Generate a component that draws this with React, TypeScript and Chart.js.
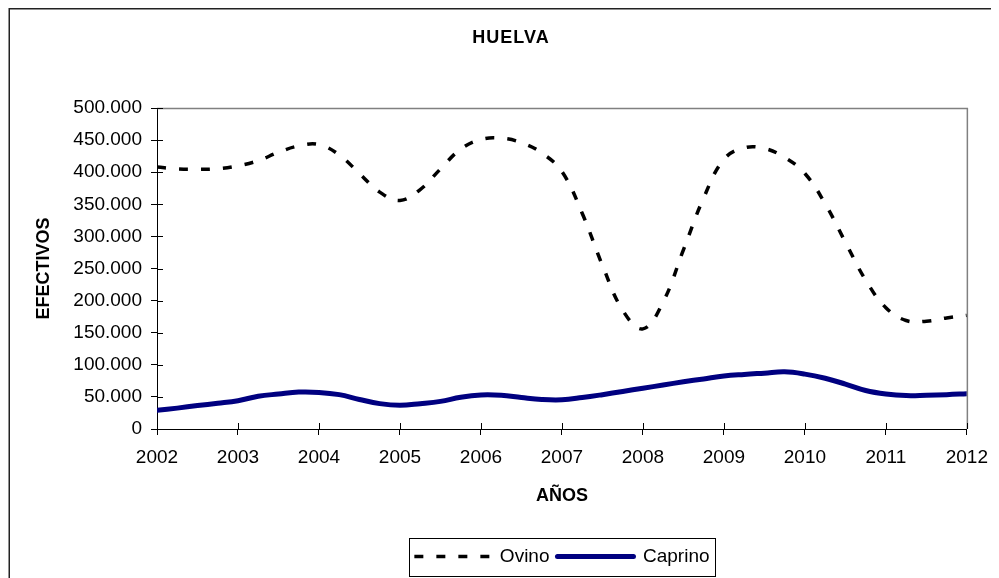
import { useEffect, useRef } from 'react';
import { Chart, registerables } from 'chart.js';

Chart.register(...registerables);

const chartTitle = 'HUELVA';
const yAxisTitle = 'EFECTIVOS';
const xAxisTitle = 'AÑOS';
const seriesNames = ['Ovino', 'Caprino'];

const yearTicks = [2002, 2003, 2004, 2005, 2006, 2007, 2008, 2009, 2010, 2011, 2012];

const periods = [
  2002, 2002.25, 2002.5, 2002.75,
  2003, 2003.25, 2003.5, 2003.75,
  2004, 2004.25, 2004.5, 2004.75,
  2005, 2005.25, 2005.5, 2005.75,
  2006, 2006.25, 2006.5, 2006.75,
  2007, 2007.25, 2007.5, 2007.75,
  2008, 2008.25, 2008.5, 2008.75,
  2009, 2009.25, 2009.5, 2009.75,
  2010, 2010.25, 2010.5, 2010.75,
  2011, 2011.25, 2011.5, 2011.75,
  2012,
];

const ovino = [
  408000, 405000, 404500, 405500,
  410000, 418000, 431000, 441000,
  443000, 427000, 398000, 369000,
  356000, 373000, 405000, 436000,
  451000, 453000, 446000, 430000,
  401000, 336000, 255000, 185000,
  156000, 198000, 279000, 360000,
  420000, 438000, 437000, 423000,
  398000, 351000, 291000, 232000,
  189000, 169000, 168000, 173000,
  177000,
];

const caprino = [
  29000, 32500, 36500, 40000,
  44000, 51000, 54500, 57500,
  57000, 53500, 46000, 39500,
  37000, 39500, 43000, 49500,
  53000, 52500, 49000, 46000,
  45500, 49000, 53500, 58500,
  63500, 68500, 73500, 78000,
  82500, 85000, 87000, 89000,
  85500, 79000, 70000, 60000,
  54500, 52000, 52500, 53500,
  55000,
];

const FONT = '"Liberation Sans", Arial, Helvetica, sans-serif';

const decorPlugin = {
  id: 'decor',
  afterDraw(chart: any) {
    const { ctx, chartArea: a, scales } = chart;
    ctx.save();
    // plot area border (top / right) in grey
    ctx.strokeStyle = '#808080';
    ctx.lineWidth = 1.5;
    ctx.beginPath();
    ctx.moveTo(a.left, a.top + 0.5);
    ctx.lineTo(a.right + 0.5, a.top + 0.5);
    ctx.lineTo(a.right + 0.5, a.bottom);
    ctx.stroke();

    // inner halves of the tick marks (ticks cross the axes)
    ctx.strokeStyle = '#000';
    ctx.lineWidth = 1;
    ctx.beginPath();
    scales.y.ticks.forEach((t: any) => {
      const y = Math.round(scales.y.getPixelForValue(t.value)) + 0.5;
      ctx.moveTo(a.left, y);
      ctx.lineTo(a.left + 6, y);
    });
    scales.x.ticks.forEach((t: any) => {
      const x = Math.round(scales.x.getPixelForValue(t.value)) + 0.5;
      ctx.moveTo(x, a.bottom);
      ctx.lineTo(x, a.bottom - 6);
    });
    ctx.stroke();

    // outer frame (top and left edges visible)
    ctx.strokeStyle = '#222';
    ctx.lineWidth = 1.5;
    ctx.beginPath();
    ctx.moveTo(1.25, chart.height);
    ctx.lineTo(1.25, 0.75);
    ctx.lineTo(chart.width, 0.75);
    ctx.stroke();

    // title
    ctx.fillStyle = '#000';
    ctx.font = `bold 18px ${FONT}`;
    ctx.textAlign = 'center';
    ctx.textBaseline = 'middle';
    try { (ctx as any).letterSpacing = '1px'; } catch (e) {}
    ctx.fillText(chartTitle, 503, 30);
    try { (ctx as any).letterSpacing = '0px'; } catch (e) {}

    // legend frame
    const hb = chart.legend && chart.legend.legendHitBoxes;
    if (hb && hb.length) {
      let l = Infinity, r = -Infinity, cy = 0;
      hb.forEach((h: any) => {
        l = Math.min(l, h.left);
        r = Math.max(r, h.left + h.width);
        cy = h.top + h.height / 2;
      });
      ctx.strokeStyle = '#000';
      ctx.lineWidth = 1;
      ctx.strokeRect(Math.round(l - 5) + 0.5, Math.round(cy - 19) + 0.5, Math.round(r - l + 11), 38);
    }
    ctx.restore();
  },
};

export default function App() {
  const ref = useRef<HTMLCanvasElement | null>(null);

  useEffect(() => {
    if (!ref.current) return;
    const chart = new Chart(ref.current, {
      type: 'line',
      data: {
        datasets: [
          {
            label: seriesNames[0],
            data: periods.map((p, i) => ({ x: p, y: ovino[i] })),
            borderColor: '#000000',
            backgroundColor: '#000000',
            borderWidth: 3.5,
            borderDash: [9, 13],
            borderCapStyle: 'butt',
            pointRadius: 0,
            tension: 0.4,
            fill: false,
          },
          {
            label: seriesNames[1],
            data: periods.map((p, i) => ({ x: p, y: caprino[i] })),
            borderColor: '#000080',
            backgroundColor: '#000080',
            borderWidth: 5,
            borderCapStyle: 'round',
            pointRadius: 0,
            tension: 0.4,
            fill: false,
          },
        ],
      },
      plugins: [decorPlugin],
      options: {
        animation: false,
        responsive: false,
        maintainAspectRatio: false,
        devicePixelRatio: 1,
        layout: { padding: { top: 100, right: 29, left: 0, bottom: 2 } },
        plugins: {
          title: { display: false },
          tooltip: { enabled: false },
          legend: {
            display: true,
            position: 'bottom',
            fullSize: false,
            labels: {
              usePointStyle: true,
              pointStyle: 'line',
              pointStyleWidth: 76,
              boxHeight: 18,
              padding: 8,
              color: '#000',
              font: { family: FONT, size: 19 },
              generateLabels: (c: any) => {
                const items = Chart.defaults.plugins.legend.labels.generateLabels(c);
                return items.map((it: any) => {
                  const ds: any = c.data.datasets[it.datasetIndex];
                  return {
                    ...it,
                    pointStyle: 'line',
                    lineDash: ds.borderDash || [],
                    lineCap: ds.borderCapStyle || 'butt',
                    lineWidth: ds.borderWidth,
                    strokeStyle: ds.borderColor,
                    fillStyle: ds.borderColor,
                  };
                });
              },
            },
          },
        },
        scales: {
          x: {
            type: 'linear',
            min: 2002,
            max: 2012,
            afterBuildTicks: (s: any) => {
              s.ticks = yearTicks.map((v) => ({ value: v }));
            },
            afterFit: (s: any) => {
              s.height = 110;
            },
            ticks: {
              color: '#000',
              padding: 11,
              maxRotation: 0,
              autoSkip: false,
              font: { family: FONT, size: 19 },
              callback: (v: any) => String(v),
            },
            grid: {
              drawOnChartArea: false,
              drawTicks: true,
              tickLength: 6,
              color: '#000',
            },
            border: { display: true, color: '#000', width: 1 },
            title: {
              display: true,
              text: xAxisTitle,
              color: '#000',
              font: { family: FONT, size: 18, weight: 'bold' },
              padding: { top: 0, bottom: 32 },
            },
          },
          y: {
            type: 'linear',
            min: 0,
            max: 500000,
            afterBuildTicks: (s: any) => {
              const t = [];
              for (let v = 0; v <= 500000; v += 50000) t.push({ value: v });
              s.ticks = t;
            },
            afterFit: (s: any) => {
              s.width = 149;
            },
            ticks: {
              color: '#000',
              padding: 9,
              font: { family: FONT, size: 19 },
              callback: (v: any) => (v === 0 ? '0' : `${v / 1000}.000`),
            },
            grid: {
              drawOnChartArea: false,
              drawTicks: true,
              tickLength: 6,
              color: '#000',
            },
            border: { display: true, color: '#000', width: 1 },
            title: {
              display: true,
              text: yAxisTitle,
              color: '#000',
              font: { family: FONT, size: 18, weight: 'bold' },
              padding: { top: 25, bottom: 0 },
            },
          },
        },
      },
    });
    return () => chart.destroy();
  }, []);

  return (
    <canvas
      ref={ref}
      width={991}
      height={570}
      style={{ display: 'block', width: 991, height: 570 }}
    />
  );
}
